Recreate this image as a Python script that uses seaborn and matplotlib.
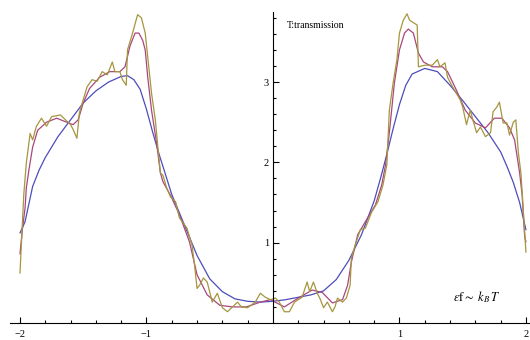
import numpy as np
import pandas as pd
import matplotlib
matplotlib.use("Agg")
import matplotlib.pyplot as plt
import seaborn as sns
from matplotlib.ticker import FixedLocator

# ---- data ----
blue_x = [-2.0, -1.96, -1.9, -1.85, -1.8, -1.75, -1.7, -1.6, -1.5, -1.4, -1.3, -1.2, -1.15, -1.1, -1.05,
          -1.0, -0.95, -0.9, -0.8, -0.7, -0.6, -0.5, -0.4, -0.3, -0.2, -0.1, 0.0, 0.1, 0.2, 0.3, 0.4,
          0.5, 0.6, 0.7, 0.8, 0.85, 0.9, 0.95, 1.0, 1.05, 1.1, 1.2, 1.3, 1.4, 1.5, 1.6, 1.7, 1.8,
          1.85, 1.9, 1.95, 2.0]
blue_y = [1.12, 1.26, 1.70, 1.90, 2.06, 2.19, 2.32, 2.53, 2.74, 2.89, 3.00, 3.07, 3.08, 3.03, 2.91,
          2.66, 2.37, 2.10, 1.60, 1.22, 0.84, 0.55, 0.39, 0.30, 0.27, 0.26, 0.27, 0.29, 0.32, 0.35, 0.40,
          0.54, 0.78, 1.10, 1.52, 1.80, 2.10, 2.42, 2.72, 2.96, 3.10, 3.17, 3.13, 2.96, 2.77, 2.57, 2.37,
          2.13, 1.95, 1.75, 1.50, 1.16]

magenta_x = [-2.0, -1.98, -1.96, -1.95, -1.93, -1.9, -1.86, -1.79, -1.71, -1.63, -1.58, -1.54, -1.5,
             -1.45, -1.37, -1.29, -1.21, -1.17, -1.13, -1.09, -1.06, -1.03, -1.01, -0.99, -0.96, -0.92,
             -0.89, -0.87, -0.81, -0.74, -0.66, -0.6, -0.52, -0.42, -0.32, -0.21, -0.1, -0.02, 0.09,
             0.2, 0.31, 0.39, 0.47, 0.55, 0.59, 0.62, 0.67, 0.73, 0.81, 0.86, 0.89, 0.92, 0.96, 1.0,
             1.04, 1.07, 1.11, 1.15, 1.19, 1.26, 1.34, 1.38, 1.45, 1.52, 1.6, 1.68, 1.75, 1.81, 1.87,
             1.91, 1.95, 1.97, 1.99, 2.0]
magenta_y = [0.86, 1.18, 1.43, 1.68, 1.90, 2.19, 2.40, 2.50, 2.55, 2.50, 2.47, 2.53, 2.74,
             2.92, 3.06, 3.13, 3.13, 3.19, 3.45, 3.61, 3.61, 3.52, 3.40, 3.06, 2.65, 2.24,
             1.87, 1.76, 1.59, 1.35, 1.01, 0.60, 0.35, 0.22, 0.20, 0.20, 0.26, 0.29, 0.20,
             0.31, 0.41, 0.38, 0.25, 0.29, 0.47, 0.76, 1.10, 1.26, 1.47, 1.72, 1.97, 2.37, 2.99, 3.40,
             3.61, 3.66, 3.61, 3.36, 3.25, 3.19, 3.19, 3.13, 2.90, 2.65, 2.49, 2.43, 2.55, 2.55, 2.43,
             2.28, 1.87, 1.59, 1.07, 1.01]

gold_x = [-2.0, -1.97, -1.95, -1.92, -1.9, -1.87, -1.83, -1.79, -1.75, -1.68, -1.64, -1.6, -1.58,
          -1.55, -1.53, -1.5, -1.47, -1.43, -1.39, -1.35, -1.31, -1.27, -1.25, -1.21, -1.19, -1.16,
          -1.15, -1.11, -1.07, -1.04, -1.01, -0.99, -0.96, -0.93, -0.91, -0.89, -0.87, -0.84, -0.81,
          -0.77, -0.74, -0.68, -0.64, -0.62, -0.6, -0.58, -0.55, -0.52, -0.48, -0.44, -0.4, -0.36,
          -0.32, -0.28, -0.25, -0.2, -0.14, -0.1, -0.06, -0.02, 0.02, 0.05, 0.09, 0.13, 0.17, 0.23,
          0.27, 0.29, 0.32, 0.35, 0.37, 0.4, 0.43, 0.47, 0.49, 0.51, 0.55, 0.58, 0.61, 0.62, 0.65,
          0.69, 0.73, 0.78, 0.83, 0.87, 0.9, 0.92, 0.95, 0.98, 1.0, 1.03, 1.06, 1.08, 1.11, 1.14,
          1.15, 1.2, 1.26, 1.3, 1.32, 1.36, 1.38, 1.42, 1.48, 1.5, 1.53, 1.56, 1.58, 1.61, 1.64,
          1.68, 1.72, 1.74, 1.77, 1.79, 1.82, 1.85, 1.87, 1.9, 1.92, 1.94, 1.96, 1.97, 1.99, 2.0]
gold_y = [0.62, 1.60, 1.99, 2.36, 2.28, 2.45, 2.55, 2.45, 2.57, 2.59, 2.53, 2.47, 2.41,
          2.30, 2.62, 2.78, 2.94, 3.03, 3.01, 3.13, 3.09, 3.25, 3.13, 3.13, 3.03, 2.96,
          3.40, 3.61, 3.84, 3.80, 3.61, 3.31, 2.86, 2.53, 2.19, 1.87, 1.84, 1.68, 1.57,
          1.51, 1.31, 1.18, 0.97, 0.72, 0.43, 0.47, 0.56, 0.51, 0.26, 0.37, 0.19, 0.14,
          0.20, 0.26, 0.20, 0.19, 0.26, 0.37, 0.32, 0.29, 0.31, 0.26, 0.14, 0.14, 0.26, 0.32,
          0.51, 0.39, 0.51, 0.37, 0.31, 0.19, 0.26, 0.14, 0.20, 0.31, 0.26, 0.31, 0.47, 0.81, 0.97,
          1.16, 1.18, 1.38, 1.51, 1.72, 1.97, 2.65, 2.99, 3.28, 3.61, 3.77, 3.85, 3.77, 3.74, 3.71,
          3.19, 3.21, 3.21, 3.28, 3.19, 3.24, 3.06, 2.94, 2.78, 2.69, 2.47, 2.65, 2.53, 2.37, 2.44,
          2.32, 2.37, 2.63, 2.69, 2.75, 2.49, 2.49, 2.34, 2.50, 2.53, 2.12, 1.87, 1.63, 1.13, 0.88]

x_major = [-2, -1, 1, 2]
x_labels = ["\u22122", "\u22121", "1", "2"]
y_major = [1, 2, 3]
y_labels = ["1", "2", "3"]

# ---- figure ----
sns.set_theme(style="white")
plt.rcParams["font.family"] = ["Liberation Serif", "DejaVu Serif"]
plt.rcParams["mathtext.fontset"] = "stix"

fig = plt.figure(figsize=(5.3, 3.4), dpi=100)
ax = fig.add_axes([0, 0, 1, 1])

colors = {"blue": "#4d4dbb", "magenta": "#a8477e", "gold": "#a5963f"}
df_b = pd.DataFrame({"x": blue_x, "y": blue_y})
df_m = pd.DataFrame({"x": magenta_x, "y": magenta_y})
df_g = pd.DataFrame({"x": gold_x, "y": gold_y})
sns.lineplot(data=df_b, x="x", y="y", ax=ax, color=colors["blue"], lw=0.9, sort=False, estimator=None)
sns.lineplot(data=df_m, x="x", y="y", ax=ax, color=colors["magenta"], lw=0.9, sort=False, estimator=None)
sns.lineplot(data=df_g, x="x", y="y", ax=ax, color=colors["gold"], lw=0.9, sort=False, estimator=None)

ax.set_xlim(-2.158, 2.032)
ax.set_ylim(-0.212, 4.022)
ax.set_xlabel("")
ax.set_ylabel("")

for s in ["top", "right"]:
    ax.spines[s].set_visible(False)
ax.spines["left"].set_position(("data", 0))
ax.spines["bottom"].set_position(("data", 0))
ax.spines["left"].set_bounds(0, 3.87)
ax.spines["bottom"].set_bounds(-2.08, 2.03)
for s in ["left", "bottom"]:
    ax.spines[s].set_color("black")
    ax.spines[s].set_linewidth(0.8)

ax.xaxis.set_major_locator(FixedLocator(x_major))
ax.set_xticklabels(x_labels)
ax.yaxis.set_major_locator(FixedLocator(y_major))
ax.set_yticklabels(y_labels)
xminor = [v / 5 for v in range(-10, 11) if v % 5 != 0]
yminor = [v / 5 for v in range(1, 20) if v % 5 != 0]
ax.xaxis.set_minor_locator(FixedLocator(xminor))
ax.yaxis.set_minor_locator(FixedLocator(yminor))
ax.tick_params(which="both", direction="in", color="black", width=0.8,
               labelsize=7.5, labelcolor="black")
ax.tick_params(which="major", length=4)
ax.tick_params(which="minor", length=2.5)
ax.tick_params(axis="x", which="major", pad=5)
ax.tick_params(axis="y", which="major", pad=3)
ax.tick_params(bottom=True, left=True, which="both")

ax.text(0.11, 3.71, "T:transmission", fontsize=7, va="center", ha="left", color="black")
ax.text(1.42, 0.32, r"$\epsilon\mathrm{f}\sim\ k_B\,T$", fontsize=9, va="center", ha="left", color="black")

fig.savefig("out.png", dpi=100)
